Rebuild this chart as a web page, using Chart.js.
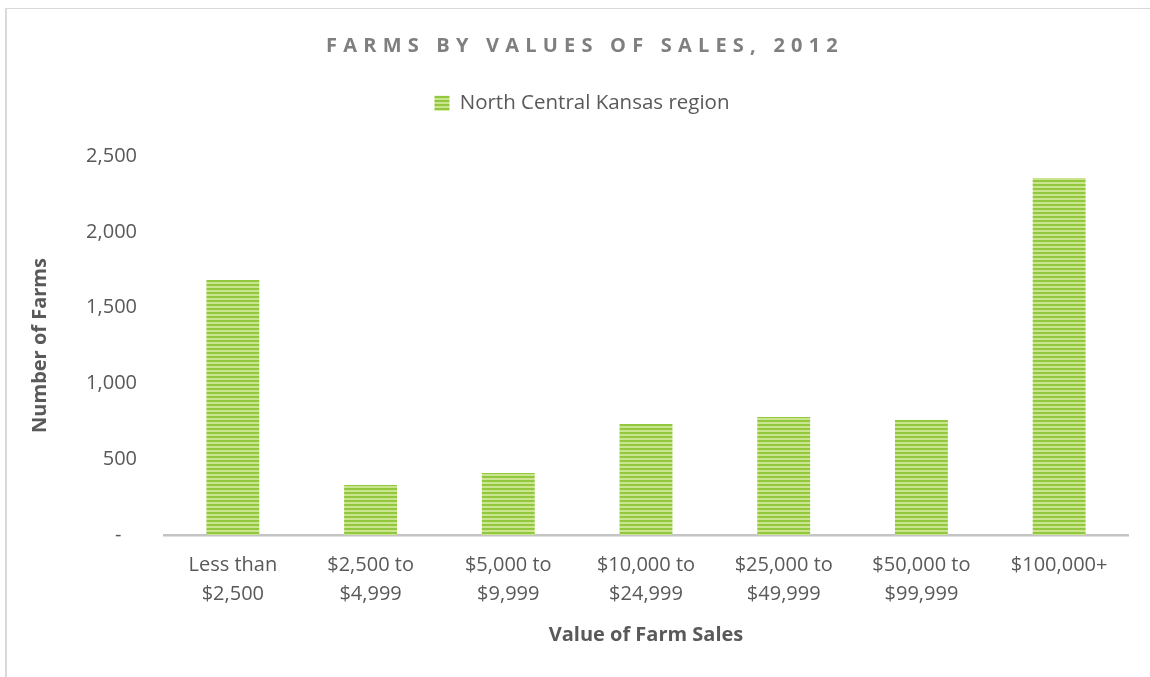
<!DOCTYPE html>
<html>
<head>
<meta charset="utf-8">
<title>Farms by Values of Sales, 2012</title>
<script src="https://cdn.jsdelivr.net/npm/chart.js@4.4.1/dist/chart.umd.min.js"></script>
<style>
  html, body { margin: 0; padding: 0; background: #fff; }
  #wrap { width: 1150px; height: 677px; position: relative; }
</style>
</head>
<body>
<div id="wrap"><canvas id="salesChart"></canvas></div>
<script>
// --- Data ---
const categories = [
    ['Less than', '$2,500'],
    ['$2,500 to', '$4,999'],
    ['$5,000 to', '$9,999'],
    ['$10,000 to', '$24,999'],
    ['$25,000 to', '$49,999'],
    ['$50,000 to', '$99,999'],
    '$100,000+'
];
const farmCounts = [1682, 330, 409, 732, 778, 759, 2355];
const seriesName = 'North Central Kansas region';
const chartTitle = 'FARMS BY VALUES OF SALES, 2012';
const yAxisTitle = 'Number of Farms';
const xAxisTitle = 'Value of Farm Sales';
const yMin = 0;
const yMax = 2500;
const yStep = 500;

const textGray = '#595959';
const fontFamily = '"Open Sans", "Noto Sans", sans-serif';

// narrow horizontal stripes, like the Excel pattern fill
function stripePattern() {
    const c = document.createElement('canvas');
    c.width = 4;
    c.height = 4;
    const g = c.getContext('2d');
    g.fillStyle = '#cae48f';
    g.fillRect(0, 0, 4, 4);
    g.fillStyle = '#92c83e';
    g.fillRect(0, 0, 4, 2);
    return g.createPattern(c, 'repeat');
}

// thin grey frame on the left and top edges
const framePlugin = {
    id: 'frame',
    beforeDraw(chart) {
        const ctx = chart.ctx;
        ctx.save();
        ctx.fillStyle = '#d9d9d9';
        ctx.fillRect(5, 8, 2, chart.height - 8);
        ctx.fillRect(5, 8, chart.width - 5, 1);
        ctx.restore();
    }
};

// the Excel chart is centred on a slightly wider frame than the picture
const headerShift = 18;

// letter spacing for the title, extra room under the legend
const tweakPlugin = {
    id: 'tweaks',
    afterInit(chart) {
        const title = chart.titleBlock;
        const drawTitle = title.draw;
        title.draw = function () {
            chart.ctx.save();
            chart.ctx.translate(headerShift + 3, 0);
            chart.ctx.letterSpacing = '6.2px';
            drawTitle.apply(this, arguments);
            chart.ctx.restore();
        };
        const legend = chart.legend;
        const fitLegend = legend.fit;
        legend.fit = function () {
            fitLegend.apply(this, arguments);
            this.height = 98;
        };
        const drawLegend = legend.draw;
        legend.draw = function () {
            chart.ctx.save();
            chart.ctx.translate(headerShift, 0);
            drawLegend.apply(this, arguments);
            chart.ctx.restore();
        };
    }
};

const ctx = document.getElementById('salesChart').getContext('2d');
new Chart(ctx, {
    type: 'bar',
    data: {
        labels: categories,
        datasets: [{
            label: seriesName,
            data: farmCounts,
            backgroundColor: stripePattern(),
            borderWidth: 0,
            barPercentage: 0.384,
            categoryPercentage: 1
        }]
    },
    options: {
        responsive: true,
        maintainAspectRatio: false,
        animation: false,
        layout: { padding: { left: 0, right: 22, top: 0, bottom: 0 } },
        plugins: {
            title: {
                display: true,
                text: chartTitle,
                color: '#7f7f7f',
                font: { family: fontFamily, size: 20, weight: 'bold', lineHeight: 1.2 },
                padding: { top: 34, bottom: 0 }
            },
            legend: {
                position: 'top',
                labels: {
                    color: textGray,
                    font: { family: fontFamily, size: 20.5 },
                    boxWidth: 15,
                    boxHeight: 15,
                    padding: 35
                }
            },
            tooltip: { enabled: false }
        },
        scales: {
            x: {
                grid: { display: false, drawTicks: false },
                border: { display: true, color: '#c4c4c4', width: 2.5 },
                ticks: {
                    color: textGray,
                    font: { family: fontFamily, size: 20, lineHeight: 1.45 },
                    padding: 16,
                    maxRotation: 0,
                    autoSkip: false
                },
                title: {
                    display: true,
                    text: xAxisTitle,
                    color: textGray,
                    font: { family: fontFamily, size: 20, weight: 'bold', lineHeight: 1.2 },
                    padding: { top: 10, bottom: 30 }
                },
                afterFit: scale => { scale.height = 142; }
            },
            y: {
                min: yMin,
                max: yMax,
                grid: { display: false, drawTicks: false },
                border: { display: false },
                ticks: {
                    stepSize: yStep,
                    color: textGray,
                    font: { family: fontFamily, size: 20 },
                    padding: 27,
                    callback: v => v === 0 ? '-   ' : v.toLocaleString('en-US')
                },
                title: {
                    display: true,
                    text: yAxisTitle,
                    color: textGray,
                    font: { family: fontFamily, size: 20, weight: 'bold', lineHeight: 1.2 },
                    padding: { top: 28, bottom: 10 }
                },
                afterFit: scale => { scale.width = 164; }
            }
        }
    },
    plugins: [framePlugin, tweakPlugin]
});
</script>
</body>
</html>
